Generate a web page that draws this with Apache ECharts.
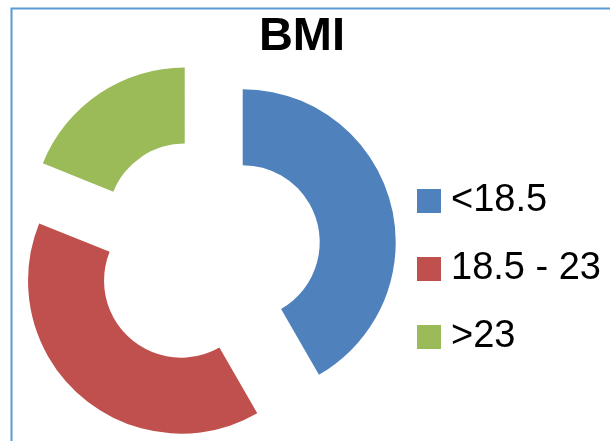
<!DOCTYPE html>
<html>
<head>
<meta charset="utf-8">
<script src="https://cdn.jsdelivr.net/npm/echarts@6/dist/echarts.min.js"></script>
<style>
  html, body { margin: 0; padding: 0; background: #ffffff; }
  #chart { width: 610px; height: 441px; }
</style>
</head>
<body>
<div id="chart"></div>
<script>
// BMI distribution (percent of group)
var categories = ['<18.5', '18.5 - 23', '>23'];
var shares = [41.7, 39.4, 18.9];
var colors = ['#4F81BD', '#C0504D', '#9BBB59'];

var chart = echarts.init(document.getElementById('chart'), null, { renderer: 'canvas' });

var pieData = categories.map(function (name, i) {
  return {
    name: name,
    value: shares[i],
    selected: true,
    itemStyle: { color: colors[i] },
    select: { itemStyle: { color: colors[i] } }
  };
});

chart.setOption({
  animation: false,
  backgroundColor: '#ffffff',
  color: colors,
  title: {
    text: 'BMI',
    left: 297,
    textAlign: 'center',
    top: 9,
    textStyle: {
      fontFamily: 'Liberation Sans',
      fontWeight: 'bold',
      fontSize: 47,
      color: '#000000'
    }
  },
  legend: {
    orient: 'vertical',
    left: 417,
    top: 182,
    padding: 0,
    icon: 'rect',
    itemWidth: 24,
    itemHeight: 24,
    itemGap: 30,
    selectedMode: false,
    data: categories,
    textStyle: {
      fontFamily: 'Liberation Sans',
      fontSize: 38,
      lineHeight: 38,
      color: '#000000',
      padding: [0, 0, 0, 5]
    }
  },
  graphic: [{
    type: 'rect',
    left: 9,
    top: 6,
    shape: { x: 0, y: 0, width: 700, height: 500 },
    style: { fill: 'none', stroke: '#5B9BD5', lineWidth: 2 },
    silent: true
  }],
  series: [{
    type: 'pie',
    center: [206, 252],
    radius: [77, 153],
    startAngle: 90,
    clockwise: true,
    selectedMode: 'multiple',
    selectedOffset: 38,
    avoidLabelOverlap: false,
    label: { show: false },
    labelLine: { show: false },
    emphasis: { disabled: true },
    itemStyle: { borderWidth: 0 },
    data: pieData
  }]
});
</script>
</body>
</html>
